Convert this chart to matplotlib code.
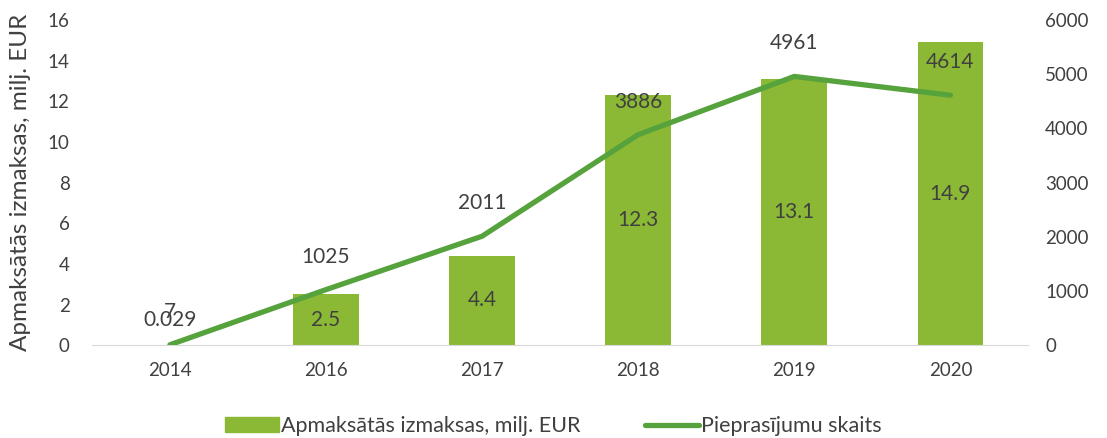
import numpy as np
import matplotlib; matplotlib.use("Agg")
import matplotlib.pyplot as plt
from matplotlib.patches import Patch
from matplotlib.lines import Line2D

years = ["2014", "2016", "2017", "2018", "2019", "2020"]
payments = [0.029, 2.5, 4.4, 12.3, 13.1, 14.9]   # milj. EUR
requests = [7, 1025, 2011, 3886, 4961, 4614]
pay_labels = ["0.029", "2.5", "4.4", "12.3", "13.1", "14.9"]

BAR = "#8cb935"; LINE = "#56a23c"; TXT = "#404040"
plt.rcParams["font.family"] = ["Lato", "DejaVu Sans"]

fig = plt.figure(figsize=(11.07, 4.38), dpi=100)
ax = fig.add_axes([0.083, 0.212, 0.846, 0.742])
ax2 = ax.twinx()
x = np.arange(len(years))

ax.bar(x, payments, width=0.42, color=BAR, zorder=2)
ax.set_ylim(0, 16); ax.set_yticks(range(0, 17, 2))
ax.set_xlim(-0.5, len(years) - 0.5)
ax.set_xticks(x); ax.set_xticklabels(years)
ax.set_ylabel("Apmaksātās izmaksas, milj. EUR", fontsize=17.5, color=TXT, labelpad=12)

ax2.plot(x, requests, color=LINE, lw=3.8, solid_capstyle="round", zorder=3)
ax2.set_ylim(0, 6000); ax2.set_yticks(range(0, 6001, 1000))

for a in (ax, ax2):
    for s in a.spines.values():
        s.set_visible(False)
    a.tick_params(length=0, labelsize=13.5, colors=TXT)
ax.spines["bottom"].set_visible(True); ax.spines["bottom"].set_color("#d9d9d9")
ax.tick_params(axis="x", pad=12)
ax.tick_params(axis="y", pad=16)
ax2.tick_params(axis="y", pad=12)

# all data labels drawn on the top axes (line axes, 0..6000 scale)
k = 6000 / 16
fs = 15
for i, (v, lab) in enumerate(zip(payments, pay_labels)):
    if v < 1:
        ax2.annotate(lab, (i, 0), xytext=(0, 25), textcoords="offset pixels",
                     ha="center", va="center", fontsize=fs, color=TXT, zorder=5)
    else:
        ax2.text(i, v / 2 * k, lab, ha="center", va="center", fontsize=fs, color=TXT, zorder=5)
for i, r in enumerate(requests):
    ax2.annotate(str(r), (i, r), xytext=(0, 33), textcoords="offset pixels",
                 ha="center", va="center", fontsize=fs, color=TXT, zorder=5)

handles = [Patch(color=BAR), Line2D([], [], color=LINE, lw=3.8, solid_capstyle="round")]
fig.legend(handles, ["Apmaksātās izmaksas, milj. EUR", "Pieprasījumu skaits"],
           loc="lower center", bbox_to_anchor=(0.5, -0.04), ncol=2, frameon=False,
           fontsize=15.5, labelcolor=TXT, handlelength=2.5, handletextpad=0.1, columnspacing=3.0)

fig.savefig("out.png", dpi=100)
